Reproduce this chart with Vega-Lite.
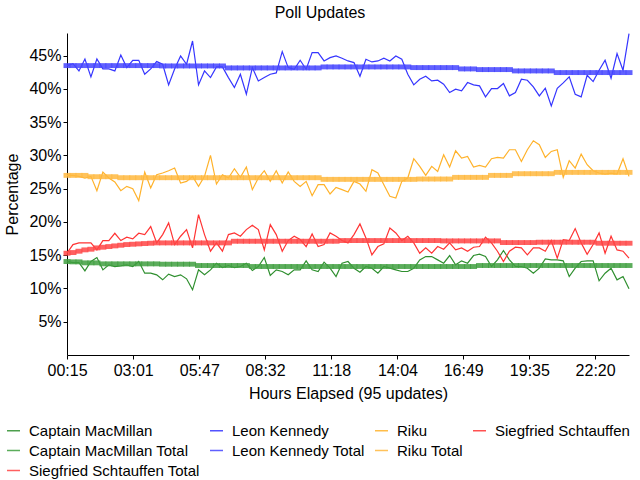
{
"$schema":"https://vega.github.io/schema/vega-lite/v6.json",
"width":562,"height":322,
"autosize":{"type":"none"},
"padding":{"left":67,"top":33,"right":11,"bottom":125},
"background":"white",
"title":{"text":"Poll Updates","font":"Liberation Sans","fontSize":16,"fontWeight":"normal","color":"black","offset":10,"dx":-28},
"config":{"view":{"stroke":null}},
"datasets":{
"names":[
{"key":"cm","series":"Captain MacMillan","total":0},
{"key":"lk","series":"Leon Kennedy","total":0},
{"key":"ri","series":"Riku","total":0},
{"key":"ss","series":"Siegfried Schtauffen","total":0},
{"key":"cmT","series":"Captain MacMillan Total","total":1},
{"key":"lkT","series":"Leon Kennedy Total","total":1},
{"key":"riT","series":"Riku Total","total":1},
{"key":"ssT","series":"Siegfried Schtauffen Total","total":1}
],
"polls":[
{"t":15,"cm":14.05,"lk":43.5,"ri":27.0,"ss":15.3,"cmT":14.05,"lkT":43.5,"riT":27.0,"ssT":15.3},
{"t":30,"cm":13.9,"lk":43.8,"ri":27.0,"ss":16.6,"cmT":14.0,"lkT":43.5,"riT":27.0,"ssT":15.4},
{"t":45,"cm":13.9,"lk":42.7,"ri":26.85,"ss":16.85,"cmT":14.0,"lkT":43.5,"riT":27.0,"ssT":15.6},
{"t":60,"cm":12.65,"lk":44.5,"ri":26.6,"ss":16.85,"cmT":13.85,"lkT":43.5,"riT":27.0,"ssT":15.8},
{"t":75,"cm":14.05,"lk":41.8,"ri":26.85,"ss":16.85,"cmT":13.85,"lkT":43.5,"riT":26.8,"ssT":15.9},
{"t":90,"cm":14.65,"lk":44.5,"ri":24.7,"ss":15.8,"cmT":13.85,"lkT":43.5,"riT":26.8,"ssT":16.1},
{"t":105,"cm":12.8,"lk":43.0,"ri":27.5,"ss":17.2,"cmT":13.7,"lkT":43.5,"riT":26.8,"ssT":16.2},
{"t":120,"cm":13.55,"lk":43.0,"ri":26.6,"ss":17.2,"cmT":13.7,"lkT":43.5,"riT":26.8,"ssT":16.3},
{"t":135,"cm":13.3,"lk":42.7,"ri":26.0,"ss":18.3,"cmT":13.7,"lkT":43.5,"riT":26.8,"ssT":16.4},
{"t":150,"cm":13.4,"lk":45.1,"ri":24.7,"ss":17.2,"cmT":13.7,"lkT":43.5,"riT":26.65,"ssT":16.5},
{"t":165,"cm":13.55,"lk":43.2,"ri":25.35,"ss":17.7,"cmT":13.7,"lkT":43.5,"riT":26.65,"ssT":16.6},
{"t":180,"cm":13.3,"lk":44.3,"ri":25.0,"ss":17.45,"cmT":13.7,"lkT":43.5,"riT":26.65,"ssT":16.65},
{"t":195,"cm":14.05,"lk":44.3,"ri":23.2,"ss":18.3,"cmT":13.7,"lkT":43.5,"riT":26.65,"ssT":16.7},
{"t":210,"cm":12.3,"lk":42.2,"ri":27.5,"ss":18.1,"cmT":13.7,"lkT":43.5,"riT":26.65,"ssT":16.75},
{"t":225,"cm":12.3,"lk":43.0,"ri":25.1,"ss":19.3,"cmT":13.7,"lkT":43.5,"riT":26.65,"ssT":16.8},
{"t":240,"cm":12.05,"lk":44.1,"ri":27.1,"ss":16.85,"cmT":13.7,"lkT":43.5,"riT":26.65,"ssT":16.85},
{"t":255,"cm":11.3,"lk":43.7,"ri":27.35,"ss":18.1,"cmT":13.65,"lkT":43.45,"riT":26.65,"ssT":16.85},
{"t":270,"cm":12.15,"lk":40.6,"ri":27.7,"ss":19.85,"cmT":13.65,"lkT":43.45,"riT":26.65,"ssT":16.85},
{"t":285,"cm":11.8,"lk":43.0,"ri":28.1,"ss":16.6,"cmT":13.65,"lkT":43.45,"riT":26.65,"ssT":16.85},
{"t":300,"cm":12.05,"lk":44.95,"ri":25.85,"ss":17.85,"cmT":13.65,"lkT":43.45,"riT":26.65,"ssT":16.85},
{"t":315,"cm":11.45,"lk":43.7,"ri":26.1,"ss":18.85,"cmT":13.65,"lkT":43.45,"riT":26.65,"ssT":16.85},
{"t":330,"cm":9.8,"lk":47.2,"ri":26.85,"ss":16.1,"cmT":13.65,"lkT":43.45,"riT":26.65,"ssT":16.85},
{"t":345,"cm":12.8,"lk":40.6,"ri":25.35,"ss":21.1,"cmT":13.45,"lkT":43.45,"riT":26.65,"ssT":16.85},
{"t":360,"cm":12.05,"lk":42.7,"ri":26.85,"ss":18.1,"cmT":13.45,"lkT":43.45,"riT":26.65,"ssT":16.85},
{"t":375,"cm":12.8,"lk":41.7,"ri":30.0,"ss":15.6,"cmT":13.45,"lkT":43.45,"riT":26.65,"ssT":16.85},
{"t":390,"cm":13.8,"lk":43.3,"ri":25.7,"ss":16.85,"cmT":13.45,"lkT":43.45,"riT":26.65,"ssT":16.85},
{"t":405,"cm":13.15,"lk":43.3,"ri":27.1,"ss":15.6,"cmT":13.45,"lkT":43.45,"riT":26.65,"ssT":16.85},
{"t":420,"cm":13.45,"lk":41.7,"ri":26.6,"ss":18.1,"cmT":13.45,"lkT":43.15,"riT":26.65,"ssT":16.85},
{"t":435,"cm":13.15,"lk":40.2,"ri":28.0,"ss":18.35,"cmT":13.45,"lkT":43.15,"riT":26.65,"ssT":17.1},
{"t":450,"cm":13.3,"lk":42.2,"ri":26.7,"ss":17.85,"cmT":13.45,"lkT":43.15,"riT":26.65,"ssT":17.1},
{"t":465,"cm":13.8,"lk":39.2,"ri":28.25,"ss":18.85,"cmT":13.45,"lkT":43.15,"riT":26.65,"ssT":17.1},
{"t":480,"cm":12.7,"lk":43.2,"ri":24.85,"ss":19.5,"cmT":13.3,"lkT":43.15,"riT":26.65,"ssT":17.1},
{"t":495,"cm":13.3,"lk":41.2,"ri":26.6,"ss":18.85,"cmT":13.3,"lkT":43.15,"riT":26.65,"ssT":17.1},
{"t":510,"cm":14.65,"lk":41.7,"ri":27.7,"ss":15.8,"cmT":13.3,"lkT":43.15,"riT":26.65,"ssT":17.1},
{"t":525,"cm":11.95,"lk":42.2,"ri":26.1,"ss":19.6,"cmT":13.3,"lkT":43.15,"riT":26.65,"ssT":17.1},
{"t":540,"cm":12.8,"lk":42.4,"ri":27.7,"ss":18.1,"cmT":13.3,"lkT":43.15,"riT":26.65,"ssT":17.1},
{"t":555,"cm":12.55,"lk":45.6,"ri":25.85,"ss":15.6,"cmT":13.3,"lkT":43.15,"riT":26.65,"ssT":17.1},
{"t":570,"cm":12.05,"lk":43.2,"ri":27.5,"ss":17.2,"cmT":13.3,"lkT":43.15,"riT":26.65,"ssT":17.1},
{"t":585,"cm":12.8,"lk":42.95,"ri":26.1,"ss":17.85,"cmT":13.3,"lkT":43.15,"riT":26.65,"ssT":17.1},
{"t":600,"cm":12.8,"lk":44.3,"ri":25.35,"ss":17.35,"cmT":13.3,"lkT":43.15,"riT":26.65,"ssT":17.1},
{"t":615,"cm":14.15,"lk":42.95,"ri":26.1,"ss":16.3,"cmT":13.3,"lkT":43.15,"riT":26.65,"ssT":17.1},
{"t":630,"cm":12.8,"lk":45.45,"ri":23.95,"ss":18.2,"cmT":13.3,"lkT":43.15,"riT":26.65,"ssT":17.1},
{"t":645,"cm":12.55,"lk":45.45,"ri":25.6,"ss":16.3,"cmT":13.3,"lkT":43.15,"riT":26.65,"ssT":17.1},
{"t":660,"cm":13.95,"lk":44.2,"ri":25.6,"ss":16.6,"cmT":13.3,"lkT":43.3,"riT":26.4,"ssT":17.1},
{"t":675,"cm":13.05,"lk":44.7,"ri":24.2,"ss":18.35,"cmT":13.3,"lkT":43.3,"riT":26.4,"ssT":17.1},
{"t":690,"cm":11.8,"lk":44.95,"ri":25.2,"ss":17.85,"cmT":13.3,"lkT":43.3,"riT":26.4,"ssT":17.1},
{"t":705,"cm":13.8,"lk":44.6,"ri":24.85,"ss":17.2,"cmT":13.3,"lkT":43.3,"riT":26.4,"ssT":17.2},
{"t":720,"cm":14.05,"lk":44.2,"ri":24.5,"ss":16.85,"cmT":13.3,"lkT":43.3,"riT":26.4,"ssT":17.2},
{"t":735,"cm":13.05,"lk":43.95,"ri":26.1,"ss":18.1,"cmT":13.3,"lkT":43.3,"riT":26.4,"ssT":17.2},
{"t":750,"cm":12.45,"lk":41.9,"ri":25.7,"ss":19.7,"cmT":13.3,"lkT":43.3,"riT":26.4,"ssT":17.2},
{"t":765,"cm":13.3,"lk":44.45,"ri":24.6,"ss":17.6,"cmT":13.3,"lkT":43.3,"riT":26.4,"ssT":17.2},
{"t":780,"cm":13.05,"lk":44.05,"ri":27.85,"ss":15.05,"cmT":13.3,"lkT":43.3,"riT":26.4,"ssT":17.2},
{"t":795,"cm":12.3,"lk":44.2,"ri":27.35,"ss":16.3,"cmT":13.3,"lkT":43.3,"riT":26.4,"ssT":17.2},
{"t":810,"cm":13.3,"lk":44.6,"ri":25.6,"ss":16.7,"cmT":13.3,"lkT":43.3,"riT":26.4,"ssT":17.2},
{"t":825,"cm":13.05,"lk":44.2,"ri":23.85,"ss":19.1,"cmT":13.3,"lkT":43.3,"riT":26.4,"ssT":17.2},
{"t":840,"cm":12.8,"lk":44.95,"ri":23.6,"ss":18.35,"cmT":13.3,"lkT":43.3,"riT":26.4,"ssT":17.2},
{"t":855,"cm":12.55,"lk":44.45,"ri":26.1,"ss":17.2,"cmT":13.3,"lkT":43.3,"riT":26.4,"ssT":17.2},
{"t":870,"cm":12.55,"lk":42.2,"ri":26.6,"ss":17.85,"cmT":13.3,"lkT":43.3,"riT":26.4,"ssT":17.2},
{"t":885,"cm":13.05,"lk":40.6,"ri":29.5,"ss":16.85,"cmT":13.3,"lkT":43.2,"riT":26.4,"ssT":17.2},
{"t":900,"cm":14.3,"lk":41.45,"ri":28.35,"ss":15.3,"cmT":13.3,"lkT":43.2,"riT":26.45,"ssT":17.2},
{"t":915,"cm":14.8,"lk":41.9,"ri":27.0,"ss":16.1,"cmT":13.3,"lkT":43.2,"riT":26.45,"ssT":17.2},
{"t":930,"cm":14.8,"lk":41.2,"ri":28.35,"ss":15.3,"cmT":13.3,"lkT":43.2,"riT":26.45,"ssT":17.2},
{"t":945,"cm":14.3,"lk":41.3,"ri":27.6,"ss":16.3,"cmT":13.3,"lkT":43.2,"riT":26.45,"ssT":17.2},
{"t":960,"cm":13.8,"lk":40.7,"ri":30.1,"ss":15.9,"cmT":13.3,"lkT":43.2,"riT":26.45,"ssT":17.15},
{"t":975,"cm":14.95,"lk":39.45,"ri":28.25,"ss":16.85,"cmT":13.3,"lkT":43.2,"riT":26.45,"ssT":17.15},
{"t":990,"cm":13.55,"lk":39.95,"ri":30.7,"ss":15.8,"cmT":13.3,"lkT":43.2,"riT":26.7,"ssT":17.15},
{"t":1005,"cm":14.15,"lk":39.7,"ri":29.6,"ss":16.1,"cmT":13.3,"lkT":43.0,"riT":26.7,"ssT":17.15},
{"t":1020,"cm":13.8,"lk":40.95,"ri":29.85,"ss":15.6,"cmT":13.3,"lkT":43.0,"riT":26.7,"ssT":17.15},
{"t":1035,"cm":14.95,"lk":40.6,"ri":28.25,"ss":16.2,"cmT":13.3,"lkT":43.0,"riT":26.7,"ssT":17.15},
{"t":1050,"cm":15.15,"lk":40.45,"ri":28.5,"ss":16.3,"cmT":13.45,"lkT":42.9,"riT":26.7,"ssT":17.15},
{"t":1065,"cm":14.8,"lk":38.8,"ri":28.25,"ss":17.7,"cmT":13.45,"lkT":42.9,"riT":26.7,"ssT":17.15},
{"t":1080,"cm":13.3,"lk":40.05,"ri":29.5,"ss":16.85,"cmT":13.45,"lkT":42.9,"riT":27.0,"ssT":17.15},
{"t":1095,"cm":14.3,"lk":40.05,"ri":29.7,"ss":15.6,"cmT":13.45,"lkT":42.9,"riT":27.0,"ssT":17.15},
{"t":1110,"cm":15.7,"lk":40.8,"ri":29.6,"ss":14.05,"cmT":13.45,"lkT":42.9,"riT":27.0,"ssT":16.9},
{"t":1125,"cm":14.3,"lk":38.95,"ri":30.85,"ss":15.6,"cmT":13.45,"lkT":42.9,"riT":27.0,"ssT":16.9},
{"t":1140,"cm":13.3,"lk":39.45,"ri":30.85,"ss":16.2,"cmT":13.45,"lkT":42.7,"riT":27.25,"ssT":16.9},
{"t":1155,"cm":13.3,"lk":41.45,"ri":29.1,"ss":16.1,"cmT":13.45,"lkT":42.7,"riT":27.25,"ssT":16.9},
{"t":1170,"cm":13.05,"lk":41.3,"ri":30.85,"ss":15.05,"cmT":13.45,"lkT":42.7,"riT":27.25,"ssT":16.9},
{"t":1185,"cm":12.3,"lk":40.3,"ri":32.2,"ss":16.1,"cmT":13.45,"lkT":42.7,"riT":27.25,"ssT":16.9},
{"t":1200,"cm":13.05,"lk":38.95,"ri":31.6,"ss":16.1,"cmT":13.45,"lkT":42.7,"riT":27.25,"ssT":16.95},
{"t":1215,"cm":14.45,"lk":40.1,"ri":29.7,"ss":15.6,"cmT":13.45,"lkT":42.7,"riT":27.25,"ssT":16.95},
{"t":1230,"cm":14.3,"lk":37.45,"ri":30.6,"ss":17.2,"cmT":13.45,"lkT":42.7,"riT":27.25,"ssT":16.95},
{"t":1245,"cm":14.3,"lk":40.1,"ri":30.85,"ss":14.55,"cmT":13.45,"lkT":42.45,"riT":27.45,"ssT":16.95},
{"t":1260,"cm":14.15,"lk":40.9,"ri":26.7,"ss":17.35,"cmT":13.45,"lkT":42.45,"riT":27.45,"ssT":16.95},
{"t":1275,"cm":11.8,"lk":41.8,"ri":29.2,"ss":17.2,"cmT":13.45,"lkT":42.45,"riT":27.45,"ssT":16.95},
{"t":1290,"cm":13.05,"lk":39.2,"ri":28.1,"ss":19.0,"cmT":13.45,"lkT":42.45,"riT":27.45,"ssT":16.95},
{"t":1305,"cm":14.05,"lk":38.8,"ri":30.2,"ss":16.85,"cmT":13.45,"lkT":42.45,"riT":27.45,"ssT":16.95},
{"t":1320,"cm":14.15,"lk":42.05,"ri":28.6,"ss":15.15,"cmT":13.45,"lkT":42.45,"riT":27.45,"ssT":16.95},
{"t":1335,"cm":14.15,"lk":41.1,"ri":27.7,"ss":16.6,"cmT":13.45,"lkT":42.45,"riT":27.45,"ssT":16.95},
{"t":1350,"cm":11.15,"lk":42.8,"ri":27.35,"ss":18.35,"cmT":13.45,"lkT":42.45,"riT":27.45,"ssT":16.8},
{"t":1365,"cm":12.3,"lk":44.3,"ri":27.2,"ss":15.3,"cmT":13.45,"lkT":42.45,"riT":27.45,"ssT":16.8},
{"t":1380,"cm":13.05,"lk":41.6,"ri":27.35,"ss":17.85,"cmT":13.45,"lkT":42.45,"riT":27.45,"ssT":16.8},
{"t":1395,"cm":11.3,"lk":45.3,"ri":27.2,"ss":15.8,"cmT":13.45,"lkT":42.45,"riT":27.45,"ssT":16.8},
{"t":1410,"cm":11.8,"lk":42.8,"ri":29.5,"ss":15.6,"cmT":13.45,"lkT":42.45,"riT":27.45,"ssT":16.8},
{"t":1425,"cm":9.95,"lk":48.3,"ri":26.85,"ss":14.55,"cmT":13.45,"lkT":42.45,"riT":27.45,"ssT":16.8}
]
},
"data":{"name":"polls"},
"transform":[
{"fold":["cm","lk","ri","ss","cmT","lkT","riT","ssT"],"as":["key","value"]},
{"lookup":"key","from":{"data":{"name":"names"},"key":"key","fields":["series","total"]}}
],
"encoding":{
"x":{"field":"t","type":"quantitative","title":"Hours Elapsed (95 updates)",
"scale":{"domain":[15,1425],"nice":false,"zero":false},
"axis":{"values":[15,181,347,512,678,844,1009,1175,1340],"labelExpr":"utcFormat(datum.value*60000,'%H:%M')","grid":false,"tickSize":4,"labelPadding":3,"titlePadding":7,"labelFlush":false,"labelOverlap":false,"domainColor":"black","tickColor":"black","labelColor":"black","titleColor":"black","labelFont":"Liberation Sans","labelFontSize":16,"titleFont":"Liberation Sans","titleFontSize":16,"titleFontWeight":"normal"}},
"y":{"field":"value","type":"quantitative","title":"Percentage",
"scale":{"domain":[0,48.4],"nice":false},
"axis":{"values":[5,10,15,20,25,30,35,40,45],"labelExpr":"datum.value + '%'","grid":false,"tickSize":4,"labelPadding":2,"titlePadding":8,"domainColor":"black","tickColor":"black","labelColor":"black","titleColor":"black","labelFont":"Liberation Sans","labelFontSize":16,"titleFont":"Liberation Sans","titleFontSize":16,"titleFontWeight":"normal"}},
"color":{"field":"series","type":"nominal",
"scale":{"domain":["Captain MacMillan","Leon Kennedy","Riku","Siegfried Schtauffen","Captain MacMillan Total","Leon Kennedy Total","Riku Total","-","Siegfried Schtauffen Total"],
"range":["#2f8f2f","#3535ff","#ffb22a","#ff3333","#3f9f3f","#4545ff","#ffb83f","#ffffff","#ff4545"]},
"legend":{"orient":"none","legendX":-61,"legendY":390,"direction":"horizontal","columns":4,"gridAlign":"each","columnPadding":6,"rowPadding":4,"title":null,
"symbolType":"stroke","symbolSize":170,"symbolStrokeWidth":1.5,"labelOffset":8,"labelLimit":0,
"labelFont":"Liberation Sans","labelFontSize":15,"labelColor":"black",
"labelExpr":"datum.label == '-' ? '' : datum.label"}}
},
"layer":[
{"transform":[{"filter":"datum.total == 0"}],"mark":{"type":"line","strokeWidth":1.2},"encoding":{}},
{"transform":[{"filter":"datum.total == 1"}],"mark":{"type":"point","shape":"M-1,-0.7H1V0.7H-1Z","filled":true,"size":49,"opacity":0.85,"strokeWidth":0},"encoding":{}}
]
}
